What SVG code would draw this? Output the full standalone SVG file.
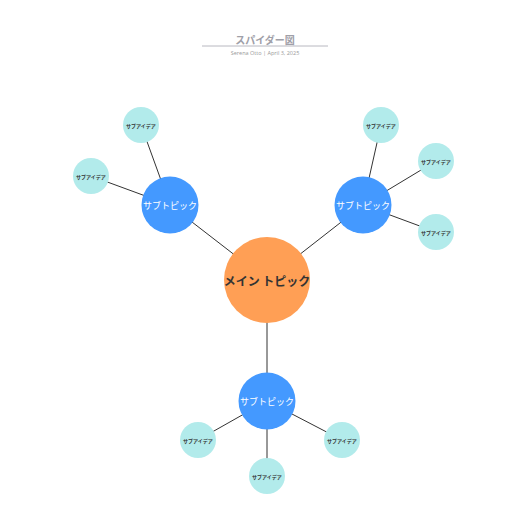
<svg xmlns="http://www.w3.org/2000/svg" width="516" height="516" viewBox="0 0 516 516">
<style>
.ln{stroke:#333;stroke-width:1}
.main{fill:#FF9F55}
.sub{fill:#4499FF}
.idea{fill:#B2EBEB}
text{font-family:"Noto Sans CJK JP","Noto Sans",sans-serif;text-anchor:middle;dominant-baseline:central}
.tm{font-size:12px;font-weight:bold;fill:#333}
.ts{font-size:9px;fill:#fff}
.ti{font-size:5px;font-weight:bold;fill:#333}
</style>
<rect width="516" height="516" fill="#fff"/>
<g id="title">
<text x="265" y="39.5" style="font-size:10px;font-weight:bold;fill:#a0a0a8">スパイダー図</text>
<line x1="202" y1="46" x2="328" y2="46" stroke="#b8b8c0" stroke-width="1"/>
<text x="265" y="52.5" style="font-size:5.5px;fill:#999;font-family:'Open Sans',sans-serif">Serena Otto  |  April 3, 2025</text>
</g>
<g id="connectors">
<line class="ln" x1="267" y1="280" x2="170" y2="205"/>
<line class="ln" x1="267" y1="280" x2="363" y2="205"/>
<line class="ln" x1="267" y1="280" x2="267" y2="401"/>
<line class="ln" x1="170" y1="205" x2="141" y2="125"/>
<line class="ln" x1="170" y1="205" x2="91" y2="176"/>
<line class="ln" x1="363" y1="205" x2="381" y2="125"/>
<line class="ln" x1="363" y1="205" x2="436" y2="161"/>
<line class="ln" x1="363" y1="205" x2="436" y2="232"/>
<line class="ln" x1="267" y1="401" x2="198" y2="440"/>
<line class="ln" x1="267" y1="401" x2="267" y2="476"/>
<line class="ln" x1="267" y1="401" x2="342" y2="440"/>
</g>
<g id="main"><circle class="main" cx="267" cy="280" r="43"/><text class="tm" x="267" y="280">メイン トピック</text></g>
<g id="sub-left"><circle class="sub" cx="170" cy="205" r="28.5"/><text class="ts" x="170" y="205">サブトピック</text></g>
<g id="sub-right"><circle class="sub" cx="363" cy="205" r="28.5"/><text class="ts" x="363" y="205">サブトピック</text></g>
<g id="sub-bottom"><circle class="sub" cx="267" cy="401" r="28.5"/><text class="ts" x="267" y="401">サブトピック</text></g>
<g id="idea-l1"><circle class="idea" cx="141" cy="125" r="18"/><text class="ti" x="141" y="125">サブアイデア</text></g>
<g id="idea-l2"><circle class="idea" cx="91" cy="176" r="18"/><text class="ti" x="91" y="176">サブアイデア</text></g>
<g id="idea-r1"><circle class="idea" cx="381" cy="125" r="18"/><text class="ti" x="381" y="125">サブアイデア</text></g>
<g id="idea-r2"><circle class="idea" cx="436" cy="161" r="18"/><text class="ti" x="436" y="161">サブアイデア</text></g>
<g id="idea-r3"><circle class="idea" cx="436" cy="232" r="18"/><text class="ti" x="436" y="232">サブアイデア</text></g>
<g id="idea-b1"><circle class="idea" cx="198" cy="440" r="18"/><text class="ti" x="198" y="440">サブアイデア</text></g>
<g id="idea-b2"><circle class="idea" cx="267" cy="476" r="18"/><text class="ti" x="267" y="476">サブアイデア</text></g>
<g id="idea-b3"><circle class="idea" cx="342" cy="440" r="18"/><text class="ti" x="342" y="440">サブアイデア</text></g>
</svg>
